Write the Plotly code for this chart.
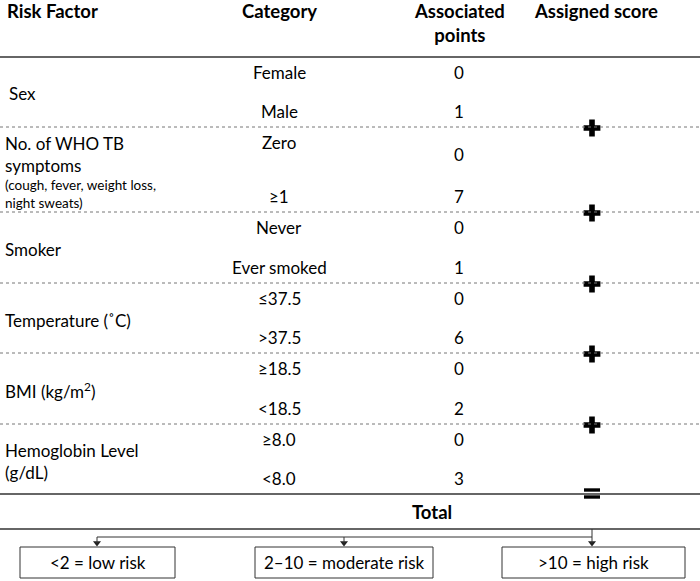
import plotly.graph_objects as go

# table content
risk_factors = ["Sex", "No. of WHO TB<br>symptoms", "Smoker", "Temperature (˚C)",
                "BMI (kg/m<sup>2</sup>)", "Hemoglobin Level<br>(g/dL)"]
risk_notes = ["", "(cough, fever, weight loss,<br>night sweats)", "", "", "", ""]
categories = [["Female", "Male"], ["Zero", "≥1"], ["Never", "Ever smoked"],
              ["≤37.5", ">37.5"], ["≥18.5", "<18.5"], ["≥8.0", "<8.0"]]
points = [[0, 1], [0, 7], [0, 1], [0, 6], [0, 2], [0, 3]]
headers = ["Risk Factor", "Category", "Associated<br>points", "Assigned score"]
total_label = "Total"
risk_bands = ["<2 = low risk", "2\u201310 = moderate risk", ">10 = high risk"]

# layout (pixel-like coordinates)
W, H = 700, 581
FONT = "Lato, 'Open Sans', sans-serif"
BODY = 17
HEAD = 18.5
top = 57
group_h = [70, 85, 71, 70, 71, 70]
x_cat, x_pts, x_score = 279, 459, 592
box_x = [(20, 175), (255, 433), (502, 685)]
box_y = (547, 578)

fig = go.Figure()
fig.add_trace(go.Scatter(x=[0, W], y=[0, H], mode="markers", marker=dict(opacity=0),
                         hoverinfo="skip", showlegend=False))

ann = []
shapes = []

def txt(x, y, s, size=BODY, bold=False, anchor="center"):
    if bold:
        s = "<b>" + s + "</b>"
    ann.append(dict(x=x, y=y, xref="x", yref="y", text=s, showarrow=False,
                    xanchor=anchor, yanchor="middle", align="left" if anchor == "left" else "center",
                    font=dict(family=FONT, size=size, color="black")))

def hline(y, color="#333", width=1.5, dash="solid", x0=0, x1=W):
    shapes.append(dict(type="line", x0=x0, x1=x1, y0=y, y1=y, xref="x", yref="y",
                       line=dict(color=color, width=width, dash=dash)))

# headers
txt(5, 11, headers[0], HEAD, True, "left")
txt(x_cat, 11, headers[1], HEAD, True)
txt(x_pts, 23, headers[2], HEAD, True)
txt(596, 11, headers[3], HEAD, True)

hline(top)

y0 = top
for i, h in enumerate(group_h):
    y1 = y0 + h
    c1, c2 = y0 + 15, y1 - 16
    txt(x_cat, c1, categories[i][0])
    txt(x_cat, c2, categories[i][1])
    p1 = c1 + 12 if risk_notes[i] else c1
    txt(x_pts, p1, str(points[i][0]))
    txt(x_pts, c2, str(points[i][1]))
    if risk_notes[i]:
        txt(3, y0 + 27, risk_factors[i], BODY, False, "left")
        txt(3, y0 + 67, risk_notes[i], 13.5, False, "left")
    elif i == 0:
        txt(7, (y0 + y1) / 2 + 1, risk_factors[i], BODY, False, "left")
    else:
        txt(3, (y0 + y1) / 2 + 2, risk_factors[i], BODY, False, "left")
    if i < len(group_h) - 1:
        hline(y1, "#777", 1, "dot")
    y0 = y1

# plus signs between groups
plus_y = []
y0 = top
for h in group_h[:-1]:
    y0 += h
    plus_y.append(y0 + 1)
fig.add_trace(go.Scatter(x=[x_score] * len(plus_y), y=plus_y, mode="markers",
                         marker=dict(symbol="cross", size=14, color="black", line=dict(width=0)),
                         hoverinfo="skip", showlegend=False))

bottom = y0 + group_h[-1]
hline(bottom)
# equals sign
for yy in (bottom - 4, bottom + 3):
    shapes.append(dict(type="rect", x0=x_score - 8, x1=x_score + 8, y0=yy - 1.7, y1=yy + 1.7,
                       xref="x", yref="y", fillcolor="black", line=dict(width=0)))
txt(432, 512, total_label, HEAD, True)
line2 = 529
hline(line2)

# connector and arrows
conn_y = 537
arrow_x = [97, 344, x_score]
hline(conn_y, "#333", 1, "solid", arrow_x[0], x_score)
for k, ax in enumerate(arrow_x):
    start = line2 if k == 2 else conn_y
    shapes.append(dict(type="line", x0=ax, x1=ax, y0=start, y1=box_y[0] - 4, xref="x", yref="y",
                       line=dict(color="#333", width=1)))
fig.add_trace(go.Scatter(x=arrow_x, y=[box_y[0] - 4] * 3, mode="markers",
                         marker=dict(symbol="triangle-down", size=7, color="#222", line=dict(width=0)),
                         hoverinfo="skip", showlegend=False))

# outcome boxes
for (bx0, bx1), label in zip(box_x, risk_bands):
    shapes.append(dict(type="rect", x0=bx0, x1=bx1, y0=box_y[0], y1=box_y[1], xref="x", yref="y",
                       line=dict(color="#333", width=1), fillcolor="rgba(0,0,0,0)"))
    txt((bx0 + bx1) / 2, (box_y[0] + box_y[1]) / 2, label, BODY)

fig.update_layout(
    width=W, height=H,
    margin=dict(l=0, r=0, t=0, b=0),
    paper_bgcolor="white", plot_bgcolor="white",
    xaxis=dict(range=[0, W], visible=False, fixedrange=True),
    yaxis=dict(range=[H, 0], visible=False, fixedrange=True),
    annotations=ann, shapes=shapes, showlegend=False,
)

fig.write_html("out.html", config={"displayModeBar": False},
               post_script="document.body.style.margin='0';")
